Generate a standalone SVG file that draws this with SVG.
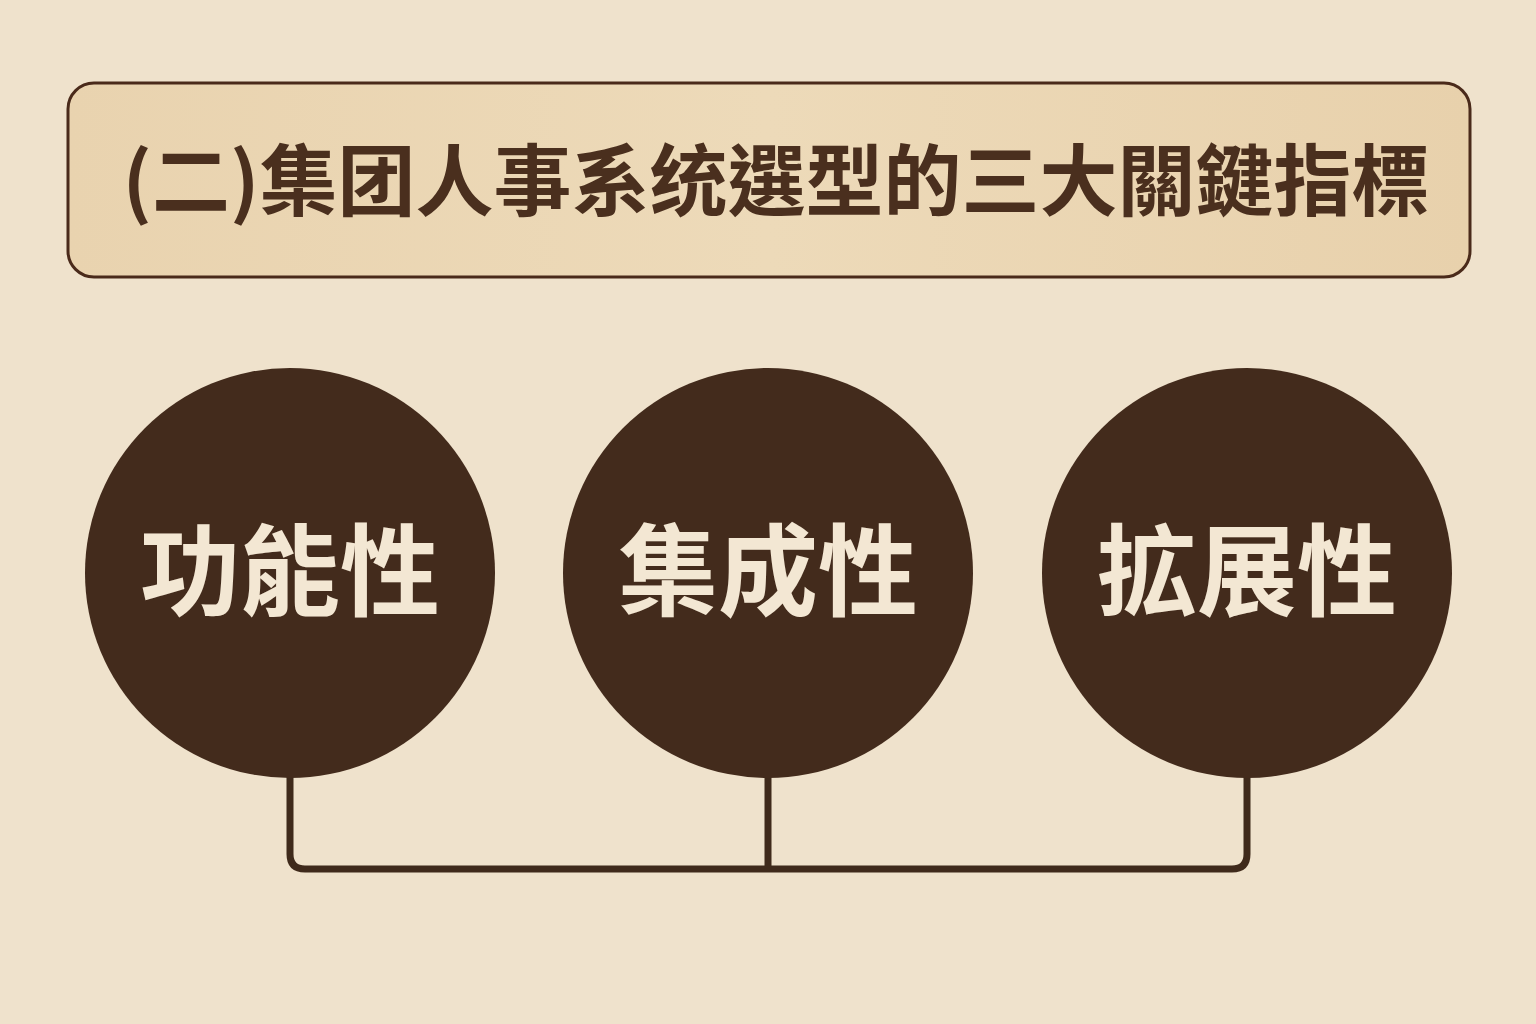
<svg xmlns="http://www.w3.org/2000/svg" width="1536" height="1024" viewBox="0 0 1536 1024">
<defs>
<linearGradient id="titleFill" x1="0" y1="0" x2="1" y2="0">
<stop offset="0" stop-color="#E9D3AF"/>
<stop offset="0.5" stop-color="#EDDAB9"/>
<stop offset="1" stop-color="#E8D1AC"/>
</linearGradient>
</defs>
<style>
.bg{fill:#EFE2CC}
.titlebox{fill:url(#titleFill);stroke:#4A2A1A;stroke-width:3}
.title{font-family:"Noto Sans CJK TC","Noto Sans CJK SC",sans-serif;font-weight:700;font-size:78px;fill:#4A2F1E}
.node{fill:#432B1C}
.label{font-family:"Noto Sans CJK TC","Noto Sans CJK SC",sans-serif;font-weight:700;font-size:100px;fill:#F3E7D3;text-anchor:middle}
.conn{fill:none;stroke:#3F2A1B;stroke-width:7;stroke-linejoin:round}
</style>
<rect class="bg" x="0" y="0" width="1536" height="1024"/>
<g id="title">
<rect class="titlebox" x="68" y="83" width="1402" height="194" rx="26" ry="26"/>
<text class="title" x="776" y="210" text-anchor="middle">(二)集团人事系统選型的三大關鍵指標</text>
</g>
<g id="connectors">
<path class="conn" d="M290,776 V854 Q290,869 305,869 H1232 Q1247,869 1247,854 V776"/>
<path class="conn" d="M768,776 V869"/>
</g>
<g id="node-functionality">
<circle class="node" cx="290" cy="573" r="205"/>
<text class="label" x="290" y="608">功能性</text>
</g>
<g id="node-integration">
<circle class="node" cx="768" cy="573" r="205"/>
<text class="label" x="768" y="608">集成性</text>
</g>
<g id="node-extensibility">
<circle class="node" cx="1247" cy="573" r="205"/>
<text class="label" x="1247" y="608">拡展性</text>
</g>
</svg>
